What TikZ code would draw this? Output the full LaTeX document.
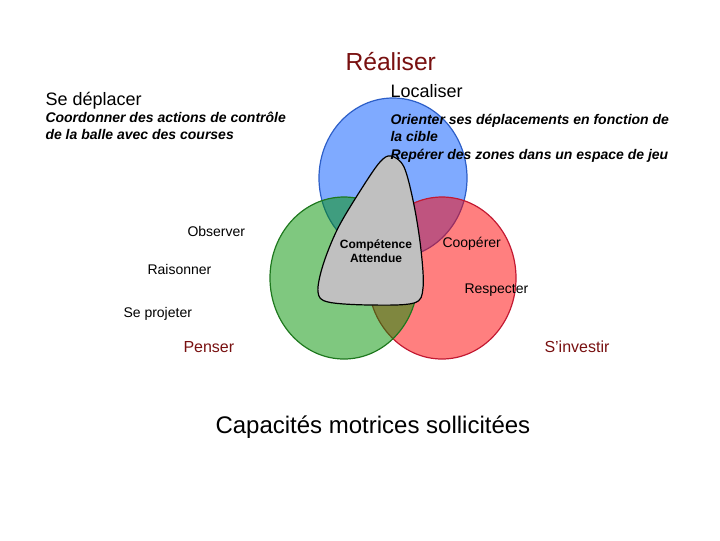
\documentclass[tikz,border=0pt]{standalone}
\usepackage{fontspec}
\setmainfont{Liberation Sans}

\definecolor{bleuR}{RGB}{0,85,255}
\definecolor{vertP}{RGB}{0,145,0}
\definecolor{rougeS}{RGB}{255,0,0}
\definecolor{titreR}{RGB}{120,16,16}

\tikzset{every picture/.style={line width=0.75pt}}
\tikzset{
  zone/.style={fill opacity=0.5, line width=0.9pt},
  lbl/.style={anchor=base west, inner sep=0pt, font=\fontsize{10.5}{12}\selectfont},
  rubrique/.style={anchor=base west, inner sep=0pt, font=\fontsize{13.5}{16}\selectfont},
  detail/.style={anchor=base west, inner sep=0pt, align=left, font=\fontsize{10.5}{12.6}\selectfont\bfseries\itshape},
  axe/.style={anchor=base west, inner sep=0pt, text=titreR, font=\fontsize{12}{14}\selectfont},
}

\begin{document}
\begin{tikzpicture}[x=0.75pt,y=0.75pt,yscale=-1,xscale=1]
\useasboundingbox (0,0) rectangle (720,540);
%Shape: Ellipse [Realiser]
\draw [zone, draw={rgb,255:red,45;green,95;blue,200}, fill=bleuR] (393,178) ellipse [x radius=74, y radius=80];
%Shape: Ellipse [S'investir]
\draw [zone, draw={rgb,255:red,195;green,25;blue,50}, fill=rougeS] (442,278) ellipse [x radius=74, y radius=81];
%Shape: Ellipse [Penser]
\draw [zone, draw={rgb,255:red,30;green,120;blue,30}, fill=vertP] (344,278) ellipse [x radius=74, y radius=81];
%Shape: Competence attendue
\draw [fill={rgb,255:red,192;green,192;blue,192}, line width=0.9pt] plot [smooth cycle, tension=0.55] coordinates {(391,156) (404,167) (414,205) (421,250) (423,288) (414,303) (370,305) (328,302) (318,292) (323,265) (338,228) (362,188) (380,162)};

% Text Node
\node [anchor=base west, inner sep=0pt, text=titreR, font=\fontsize{18.5}{22}\selectfont] (realiser) at (345,70) {Réaliser};
% Text Node
\node [rubrique] (localiser) at (390,97) {Localiser};
% Text Node
\node [rubrique] (deplacer) at (45,105) {Se déplacer};
% Text Node (base = last line)
\node [detail] (coordonner) at (45,139) {Coordonner des actions de contrôle\\de la balle avec des courses};
% Text Node (base = last line)
\node [detail, font=\fontsize{10.5}{13}\selectfont\bfseries\itshape] (orienter) at (390,159) {Orienter ses déplacements en fonction de\\la cible\\Repérer des zones dans un espace de jeu};
% Text Node
\node [lbl] (observer) at (187,236) {Observer};
% Text Node
\node [lbl] (raisonner) at (147,274) {Raisonner};
% Text Node
\node [lbl] (projeter) at (123,317) {Se projeter};
% Text Node
\node [lbl] (cooperer) at (442,247) {Coopérer};
% Text Node
\node [lbl] (respecter) at (464,293) {Respecter};
% Text Node
\node [axe] (penser) at (183,352) {Penser};
% Text Node
\node [axe] (investir) at (544,352) {S'investir};
% Text Node
\node [anchor=base, inner sep=0pt, align=center, font=\fontsize{9}{10.5}\selectfont\bfseries] (competence) at (376,262) {Compétence\\Attendue};
% Text Node
\node [anchor=base west, inner sep=0pt, font=\fontsize{18}{22}\selectfont] (capacites) at (215,433) {Capacités motrices sollicitées};
\end{tikzpicture}
\end{document}
